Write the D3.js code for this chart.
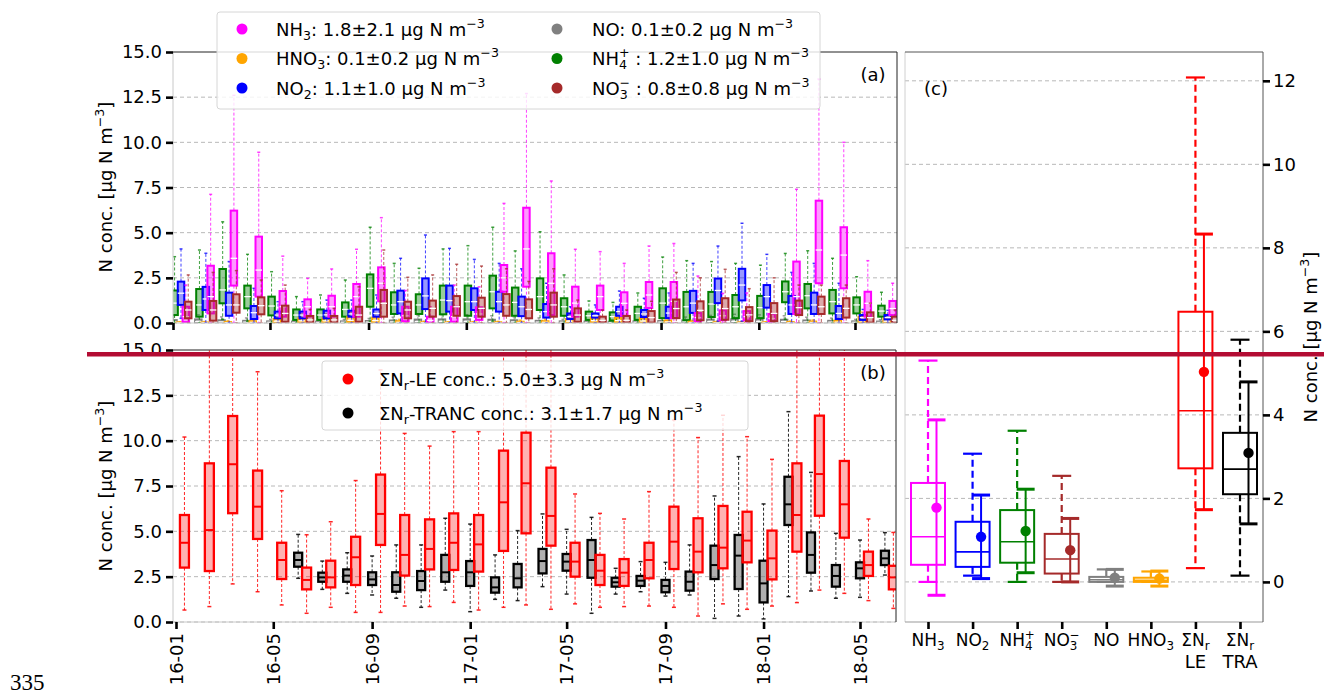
<!DOCTYPE html>
<html>
<head>
<meta charset="utf-8">
<script src="https://cdn.jsdelivr.net/npm/d3@7"></script>
<style>
body { margin: 0; background: #fff; }
text { font-family: "DejaVu Sans", sans-serif; }
</style>
</head>
<body>
<div id="chart"></div>
<script>
// ---- data ----------------------------------------------------------------
// monthly box statistics [whisker low, q1, median, q3, whisker high], Jan 2016 .. Jun 2018
const nh3Box = [
  [0,0.05,0.35,0.9,2.1],[0,0.53,1.46,3.17,7.12],[0,2.07,3.58,6.22,12.6],[0,1.46,2.93,4.78,9.45],
  [0,0.35,0.9,1.77,3.7],[0,0.35,0.9,1.31,2.47],[0,0.35,0.9,1.51,2.99],[0,0.35,1.46,2.16,4.08],
  [0,1.2,2.2,3.08,5.83],[0,0.1,0.4,0.9,1.8],[0,0.0,0.15,0.35,0.9],[0,0.07,0.35,0.9,2.1],
  [0,0.17,0.5,0.87,2.0],[0,1.73,2.5,3.21,6.62],[0,2.01,4.1,6.38,12.7],[0,0.44,2.2,3.86,7.86],
  [0,0.35,1.1,2.01,4.08],[0,0.72,1.46,2.07,3.95],[0,0.4,1.09,1.7,3.3],[0,0.83,1.55,2.27,4.26],
  [0,0.27,1.2,2.27,4.4],[0,0.1,0.3,0.55,2.6],[0,0.15,0.4,0.7,1.64],[0,0.15,0.35,0.66,1.66],
  [0,0.1,0.25,0.5,1.1],[0,0.5,1.46,3.4,7.4],[0,2.2,4.04,6.77,13.5],[0,1.92,3.76,5.3,10.0],
  [0,0.35,1.09,1.73,3.45],[0,0.44,0.8,1.22,2.2]
];
const hno3Box = [
  [0,0,0.01,0.03,0.07],[0,0,0.01,0.03,0.08],[0,0.01,0.02,0.05,0.12],[0,0.01,0.04,0.1,0.22],
  [0,0.03,0.1,0.22,0.45],[0,0.04,0.12,0.26,0.5],[0,0.04,0.12,0.26,0.52],[0,0.05,0.15,0.33,0.6],
  [0,0.04,0.13,0.3,0.55],[0,0.01,0.04,0.1,0.2],[0,0,0.02,0.04,0.1],[0,0,0.01,0.03,0.07],
  [0,0,0.01,0.03,0.07],[0,0,0.01,0.04,0.09],[0,0.01,0.03,0.07,0.16],[0,0.01,0.04,0.1,0.22],
  [0,0.03,0.1,0.22,0.46],[0,0.04,0.13,0.3,0.56],[0,0.04,0.13,0.3,0.58],[0,0.03,0.11,0.26,0.5],
  [0,0.02,0.06,0.14,0.3],[0,0.01,0.03,0.07,0.15],[0,0,0.01,0.04,0.09],[0,0,0.01,0.03,0.07],
  [0,0,0.01,0.03,0.07],[0,0,0.02,0.05,0.11],[0,0.01,0.03,0.08,0.17],[0,0.01,0.05,0.12,0.26],
  [0,0.04,0.12,0.35,0.6],[0,0.03,0.1,0.24,0.48]
];
const no2Box = [
  [0.26,1.0,1.65,2.29,4.1],[0,0.72,1.33,2.0,3.86],[0,0.4,1.0,1.68,3.4],[0,0.22,0.57,0.94,1.92],
  [0,0.26,0.44,0.63,1.18],[0,0.26,0.44,0.63,1.18],[0,0.26,0.45,0.68,1.27],[0,0.35,0.5,0.68,1.27],
  [0,0.35,0.53,0.75,1.55],[0,0.53,1.18,1.79,3.58],[0,0.77,1.5,2.47,4.87],[0,0.63,1.24,2.07,4.13],
  [0,0.72,1.18,1.92,3.52],[0,0.63,1.18,1.73,3.3],[0,0.38,0.9,1.46,3.0],[0,0.3,0.63,1.05,2.2],
  [0,0.22,0.35,0.53,0.9],[0,0.3,0.4,0.53,1.0],[0,0.4,0.63,0.9,1.77],[0,0.33,0.5,0.72,1.37],
  [0,0.27,0.55,0.9,1.66],[0,0.56,1.1,1.78,3.3],[0.1,1.1,1.8,2.46,4.26],[0.1,1.25,2.1,3.0,5.52],
  [0,0.85,1.46,2.1,3.8],[0,0.5,1.0,1.5,2.8],[0,0.5,1.0,1.68,3.3],[0,0.22,0.53,0.94,2.2],
  [0,0.17,0.3,0.44,0.75],[0,0.2,0.3,0.44,0.7]
];
const noBox = [
  [0,0.02,0.06,0.16,0.35],[0,0.03,0.08,0.2,0.45],[0,0.02,0.06,0.15,0.34],[0,0.02,0.05,0.12,0.28],
  [0,0.01,0.04,0.09,0.2],[0,0.01,0.03,0.08,0.17],[0,0.01,0.03,0.08,0.18],[0,0.01,0.04,0.09,0.2],
  [0,0.02,0.05,0.11,0.25],[0,0.02,0.06,0.14,0.32],[0,0.03,0.08,0.19,0.42],[0,0.03,0.09,0.2,0.45],
  [0,0.03,0.09,0.2,0.46],[0,0.03,0.08,0.18,0.4],[0,0.02,0.06,0.15,0.34],[0,0.02,0.05,0.12,0.28],
  [0,0.01,0.04,0.09,0.2],[0,0.01,0.03,0.08,0.17],[0,0.01,0.03,0.07,0.16],[0,0.01,0.04,0.09,0.19],
  [0,0.02,0.05,0.11,0.25],[0,0.02,0.07,0.15,0.33],[0,0.03,0.08,0.19,0.42],[0,0.03,0.09,0.21,0.48],
  [0,0.03,0.09,0.2,0.45],[0,0.03,0.08,0.18,0.4],[0,0.02,0.06,0.14,0.32],[0,0.02,0.05,0.12,0.27],
  [0,0.01,0.04,0.09,0.2],[0,0.01,0.03,0.08,0.18]
];
const nh4Box = [
  [0,0.44,1.1,1.8,3.67],[0,0.35,1.0,1.88,4.04],[0.2,1.09,1.83,2.99,5.6],[0.1,0.81,1.46,2.07,3.8],
  [0,0.42,0.94,1.46,2.84],[0,0.17,0.44,0.75,1.46],[0,0.17,0.44,0.75,1.55],[0,0.35,0.75,1.14,2.38],
  [0.1,0.9,1.92,2.69,5.3],[0,0.5,1.0,1.7,3.3],[0,0.5,1.0,1.59,3.03],[0,0.48,1.27,2.07,4.1],
  [0,0.4,1.18,2.07,4.28],[0.1,0.81,1.73,2.62,5.3],[0,0.4,1.14,1.96,3.99],[0,0.72,1.46,2.47,5.05],
  [0,0.4,0.9,1.37,2.66],[0,0.17,0.4,0.63,1.22],[0,0.13,0.35,0.59,1.14],[0,0.17,0.53,0.9,1.66],
  [0,0.27,1.1,1.92,3.65],[0,0.15,0.9,1.72,3.45],[0,0.33,1.05,1.72,3.4],[0,0.27,0.9,1.55,3.3],
  [0,0.27,0.85,1.5,3.2],[0.2,1.15,1.73,2.3,3.85],[0,0.81,1.51,2.16,4.0],[0,0.53,1.18,1.83,3.58],
  [0,0.53,1.0,1.42,2.56],[0,0.35,0.66,0.96,1.7]
];
const no3Box = [
  [0,0.26,0.72,1.18,2.66],[0,0.13,0.72,1.22,2.8],[0,0.57,1.0,1.59,2.9],[0,0.48,0.96,1.42,2.38],
  [0,0.07,0.53,0.96,2.1],[0,0.02,0.17,0.39,0.75],[0,0.02,0.17,0.39,0.81],[0,0.07,0.44,0.9,2.0],
  [0,0.35,1.09,1.83,4.04],[0,0.26,0.72,1.18,2.53],[0,0.35,0.81,1.24,2.66],[0,0.4,0.9,1.49,3.25],
  [0,0.35,0.81,1.4,3.15],[0,0.4,1.0,1.6,3.0],[0,0.26,0.75,1.31,2.3],[0,0.35,1.0,1.68,3.0],
  [0,0.07,0.44,0.81,1.27],[0,0.02,0.15,0.35,0.72],[0,0.02,0.15,0.39,0.72],[0,0.02,0.3,0.66,1.2],
  [0,0.27,0.8,1.3,2.8],[0,0.15,0.7,1.2,2.5],[0,0.18,0.8,1.37,2.97],[0,0.1,0.45,0.88,1.9],
  [0,0.1,0.53,1.1,2.5],[0,0.44,0.85,1.24,2.1],[0,0.5,0.9,1.46,2.1],[0,0.3,0.81,1.37,2.1],
  [0,0.02,0.3,0.59,1.1],[0,0.0,0.15,0.35,0.72]
];
const leBox = [
  [0.66,3.0,4.37,5.9,10.2],[0.85,2.81,5.07,8.75,16.4],[2.1,6.0,8.7,11.36,17.2],[1.67,4.58,6.36,8.35,13.8],
  [0.94,2.37,3.42,4.37,7.24],[0.48,1.8,2.32,3.0,4.81],[0.81,1.91,2.46,3.38,5.53],[0.53,2.04,3.57,4.7,7.8],
  [0.53,4.25,5.96,8.13,13.9],[0.88,2.56,3.7,5.9,10.4],[0.85,2.9,4.03,5.66,9.7],[1.08,2.87,4.37,5.99,10.5],
  [0.66,2.78,4.28,5.9,10.5],[0.81,3.92,6.6,9.45,16.1],[0.94,4.89,7.65,10.44,17.0],[0.7,4.21,5.85,8.51,15.6],
  [1.0,2.5,3.33,4.37,7.06],[0.81,2.04,2.83,3.7,5.99],[0.85,1.99,2.72,3.47,5.68],[0.88,2.41,3.42,4.37,7.19],
  [0.81,2.92,4.43,6.36,11.14],[0.33,2.74,3.88,5.72,10.17],[1.0,2.96,4.1,6.4,11.4],[0.7,3.29,4.49,6.08,10.22],
  [0.88,2.35,3.51,5.04,8.97],[1.07,3.88,5.9,8.75,15.8],[1.76,5.86,8.16,11.38,17.5],[1.58,4.65,6.49,8.88,16.3],
  [1.18,2.54,3.14,3.88,5.68],[0.75,1.8,2.46,3.1,4.94]
];
const trancBox = [
  null,null,null,null,null,
  [2.41,3.05,3.42,3.82,4.83],[1.8,2.22,2.46,2.72,3.36],[1.58,2.22,2.56,2.9,3.82],[1.49,2.04,2.35,2.74,3.64],
  [1.31,1.67,2.04,2.74,4.25],[0.81,1.76,2.26,2.81,4.25],[1.76,2.22,2.74,3.7,5.72],[0.57,1.99,2.74,3.36,5.4],
  [1.25,1.62,1.91,2.46,3.7],[1.18,1.91,2.41,3.2,5.04],[1.95,2.68,3.36,4.03,5.96],[1.54,2.83,3.33,3.75,5.11],
  [0.48,2.44,3.42,4.52,5.77],[1.54,1.95,2.19,2.44,2.96],[1.67,1.99,2.28,2.54,3.33],[1.43,1.64,1.99,2.32,3.29],
  [1.49,1.73,2.22,2.78,4.25],[0.2,2.37,3.14,4.21,6.95],[0.33,1.82,3.66,4.8,9.12],[0.17,1.08,2.13,3.38,6.51],
  [1.4,5.35,6.49,8.01,11.6],[1.71,2.72,3.7,4.94,8.25],[1.31,1.95,2.54,3.14,4.89],[1.36,2.41,2.96,3.29,4.52],
  [2.59,3.14,3.51,3.93,4.93]
];

// overall statistics, panel (c)
const cCats = ['NH3','NO2','NH4','NO3','NO','HNO3','LE','TRA'];
const cBox = [
  [0,0.41,1.08,2.37,5.3],[0.15,0.36,0.72,1.44,3.07],[0,0.46,0.96,1.72,3.62],[0,0.2,0.55,1.15,2.54],
  [0,0.0,0.05,0.12,0.3],[0,0.0,0.04,0.1,0.25],[0.33,2.72,4.1,6.47,12.08],[0.15,2.1,2.7,3.57,5.8]
];
const cMean = [1.78,1.08,1.22,0.76,0.1,0.08,5.03,3.09];
const cStd  = [2.1,1.0,1.0,0.76,0.2,0.18,3.3,1.7];

const yTicksAB = [0,2.5,5,7.5,10,12.5,15];
const yTicksC = [0,2,4,6,8,10,12];
const xTickLabels = ['16-01','16-05','16-09','17-01','17-05','17-09','18-01','18-05'];

// ---- helpers -------------------------------------------------------------
const W = 1324, H = 697, FS = 18;
const parseMonth = d3.timeParse('%y-%m');
const fmtMonth = d3.timeFormat('%y-%m');
const months = d3.range(30).map(i => new Date(2016, i, 1));
const addDays = (d, n) => new Date(+d + n * 864e5);

function rich(sel, parts, fs) {
  let shift = 0;
  parts.forEach(([s, k]) => {
    const t = sel.append('tspan').text(s);
    let target = 0, size = null, dx = 0;
    if (k === 'sub') { target = 0.24 * fs; size = 0.7 * fs; }
    else if (k === 'sup') { target = -0.42 * fs; size = 0.7 * fs; }
    else if (k === 'stack') { target = -0.42 * fs; size = 0.7 * fs; dx = -0.45 * fs; }
    if (target - shift !== 0) t.attr('dy', target - shift);
    if (dx) t.attr('dx', dx);
    if (size) t.attr('font-size', size);
    shift = target;
  });
  return sel;
}

const unit = [[' μg N m', ''], ['−3', 'sup']];
const names = {
  NH3: [['NH',''],['3','sub']],
  NO2: [['NO',''],['2','sub']],
  NH4: [['NH',''],['4','sub'],['+','stack']],
  NO3: [['NO',''],['3','sub'],['−','stack']],
  NO: [['NO','']],
  HNO3: [['HNO',''],['3','sub']],
  SN: [['ΣN',''],['r','sub']]
};

function drawBox(g, y, cx, w, s, color, o) {
  if (!s) return;
  const [lo, q1, med, q3, hi] = s;
  [[q1, lo], [q3, hi]].forEach(([a, b]) => {
    g.append('line')
      .attr('x1', cx).attr('x2', cx).attr('y1', y(a)).attr('y2', y(b))
      .attr('stroke', color).attr('stroke-width', o.ww)
      .attr('stroke-dasharray', o.dash).attr('stroke-opacity', o.wop);
  });
  [lo, hi].forEach(v => {
    g.append('line')
      .attr('x1', cx - o.cap / 2).attr('x2', cx + o.cap / 2).attr('y1', y(v)).attr('y2', y(v))
      .attr('stroke', color).attr('stroke-width', o.cw).attr('stroke-opacity', o.wop);
  });
  g.append('rect')
    .attr('x', cx - w / 2).attr('y', y(q3))
    .attr('width', w).attr('height', Math.max(0.5, y(q1) - y(q3)))
    .attr('fill', o.fill || color).attr('fill-opacity', o.fop)
    .attr('stroke', color).attr('stroke-width', o.sw);
  g.append('line')
    .attr('x1', cx - w / 2).attr('x2', cx + w / 2).attr('y1', y(med)).attr('y2', y(med))
    .attr('stroke', o.mc || color).attr('stroke-width', o.mw);
}

function grid(g, y, vals, x0, x1) {
  g.selectAll(null).data(vals).enter().append('line')
    .attr('x1', x0).attr('x2', x1).attr('y1', d => y(d)).attr('y2', d => y(d))
    .attr('stroke', '#b8b8b8').attr('stroke-width', 1).attr('stroke-dasharray', '4,3');
}

function styleAxis(a) {
  a.select('.domain').remove();
  a.selectAll('.tick line').attr('stroke', '#000').attr('stroke-width', 2.6);
  a.selectAll('.tick text').attr('font-size', FS).attr('fill', '#000')
    .attr('font-family', '"DejaVu Sans", sans-serif');
}

// ---- svg -----------------------------------------------------------------
const svg = d3.select('#chart').append('svg').attr('width', W).attr('height', H);

const t0 = new Date(2016, 0, 1), t1 = new Date(2018, 4, 1);
const xa = d3.scaleTime().domain([t0, t1]).range([173, 855]);
const xb = d3.scaleTime().domain([t0, t1]).range([176, 860]);
const ya = d3.scaleLinear().domain([0, 15]).range([323, 52]);
const yb = d3.scaleLinear().domain([0, 15]).range([622, 350]);
const yc = d3.scaleLinear().domain([-0.96, 12.69]).range([622, 52]);
const xc = d3.scalePoint().domain(cCats).range([928, 1240]);
const tickDates = xTickLabels.map(parseMonth);

const defs = svg.append('defs');
defs.append('clipPath').attr('id', 'clipA').append('rect').attr('x', 173).attr('y', 52).attr('width', 724).attr('height', 271);
defs.append('clipPath').attr('id', 'clipB').append('rect').attr('x', 173).attr('y', 350).attr('width', 723).attr('height', 272);

// ---------------- panel (a) ----------------
const pa = svg.append('g');
grid(pa, ya, yTicksAB.slice(0, -1), 173, 897);

const seriesA = [
  { data: noBox,   color: '#808080', off: 0.6 },
  { data: nh4Box,  color: '#008000', off: 2 },
  { data: hno3Box, color: '#ffa500', off: 8.5 },
  { data: no2Box,  color: '#0000ff', off: 10 },
  { data: nh3Box,  color: '#ff00ff', off: 16 },
  { data: no3Box,  color: '#a52a2a', off: 19 }
];
const boxesA = pa.append('g').attr('clip-path', 'url(#clipA)');
seriesA.forEach(sp => {
  sp.data.forEach((s, i) => {
    drawBox(boxesA, ya, xa(addDays(months[i], sp.off)), 6.5, s, sp.color,
      { ww: 1, dash: '3,2', wop: 0.75, cap: 3, cw: 1.5, fop: 0.4, sw: 2, mw: 1.3, mc: '#fff' });
  });
});

// spines (a)
pa.append('line').attr('x1', 173).attr('x2', 173).attr('y1', 52).attr('y2', 323).attr('stroke', '#c8c8c8');
pa.append('line').attr('x1', 173).attr('x2', 897).attr('y1', 323).attr('y2', 323).attr('stroke', '#c8c8c8');
pa.append('line').attr('x1', 897).attr('x2', 897).attr('y1', 52).attr('y2', 323).attr('stroke', '#222');
pa.append('line').attr('x1', 173).attr('x2', 897).attr('y1', 52).attr('y2', 52).attr('stroke', '#222');

styleAxis(pa.append('g').attr('transform', 'translate(173,0)')
  .call(d3.axisLeft(ya).tickValues(yTicksAB).tickFormat(d3.format('.1f')).tickSize(7).tickPadding(4)));
styleAxis(pa.append('g').attr('transform', 'translate(0,323)')
  .call(d3.axisBottom(xa).tickValues(tickDates).tickFormat('').tickSize(7)));

rich(pa.append('text').attr('transform', 'translate(112,187) rotate(-90)').attr('text-anchor', 'middle')
  .attr('font-size', FS), [['N conc. [μg N m', ''], ['−3', 'sup'], [']', '']], FS);
pa.append('text').attr('x', 873).attr('y', 81).attr('text-anchor', 'middle').attr('font-size', FS).text('(a)');

// legend (a)
const legA = svg.append('g');
legA.append('rect').attr('x', 217).attr('y', 12).attr('width', 603).attr('height', 97).attr('rx', 3)
  .attr('fill', '#fff').attr('fill-opacity', 0.82).attr('stroke', '#d6d6d6');
const legItemsA = [
  { key: 'NH3',  color: '#ff00ff', col: 0, row: 0, m: 1.8, s: 2.1 },
  { key: 'HNO3', color: '#ffa500', col: 0, row: 1, m: 0.1, s: 0.2 },
  { key: 'NO2',  color: '#0000ff', col: 0, row: 2, m: 1.1, s: 1.0 },
  { key: 'NO',   color: '#808080', col: 1, row: 0, m: 0.1, s: 0.2 },
  { key: 'NH4',  color: '#008000', col: 1, row: 1, m: 1.2, s: 1.0 },
  { key: 'NO3',  color: '#a52a2a', col: 1, row: 2, m: 0.8, s: 0.8 }
];
legItemsA.forEach(it => {
  const mx = it.col ? 557 : 242, tx = it.col ? 592 : 276, cy = 29 + it.row * 29.5;
  legA.append('circle').attr('cx', mx).attr('cy', cy).attr('r', 5.5).attr('fill', it.color);
  const sep = (it.key === 'NH4' || it.key === 'NO3') ? ' : ' : ': ';
  rich(legA.append('text').attr('x', tx).attr('y', cy + 6.5).attr('font-size', FS),
    names[it.key].concat([[sep + it.m.toFixed(1) + '±' + it.s.toFixed(1), '']], unit), FS);
});

// ---------------- panel (b) ----------------
const pb = svg.append('g');
grid(pb, yb, yTicksAB.slice(0, -1), 173, 896);
const boxesB = pb.append('g').attr('clip-path', 'url(#clipB)');
trancBox.forEach((s, i) => drawBox(boxesB, yb, xb(months[i]), 8, s, '#000',
  { ww: 1, dash: '3,2', wop: 0.85, cap: 4, cw: 1.5, fill: '#7a7a7a', fop: 0.6, sw: 2.3, mw: 2 }));
leBox.forEach((s, i) => drawBox(boxesB, yb, xb(addDays(months[i], 10.5)), 9, s, '#ff0000',
  { ww: 1, dash: '3,2', wop: 0.85, cap: 4, cw: 1.5, fop: 0.3, sw: 2.3, mw: 2 }));

pb.append('line').attr('x1', 173).attr('x2', 173).attr('y1', 350).attr('y2', 622).attr('stroke', '#c8c8c8');
pb.append('line').attr('x1', 173).attr('x2', 896).attr('y1', 622).attr('y2', 622).attr('stroke', '#c8c8c8');
pb.append('line').attr('x1', 896).attr('x2', 896).attr('y1', 350).attr('y2', 622).attr('stroke', '#222');
pb.append('line').attr('x1', 173).attr('x2', 896).attr('y1', 350).attr('y2', 350).attr('stroke', '#222');

styleAxis(pb.append('g').attr('transform', 'translate(173,0)')
  .call(d3.axisLeft(yb).tickValues(yTicksAB).tickFormat(d3.format('.1f')).tickSize(7).tickPadding(4)));
const axB = pb.append('g').attr('transform', 'translate(0,622)')
  .call(d3.axisBottom(xb).tickValues(tickDates).tickFormat(fmtMonth).tickSize(7));
styleAxis(axB);
axB.selectAll('.tick text').attr('transform', 'rotate(-90)').attr('x', -11).attr('y', 0)
  .attr('dy', '0.35em').attr('text-anchor', 'end');

rich(pb.append('text').attr('transform', 'translate(112,486) rotate(-90)').attr('text-anchor', 'middle')
  .attr('font-size', FS), [['N conc. [μg N m', ''], ['−3', 'sup'], [']', '']], FS);
pb.append('text').attr('x', 873).attr('y', 379).attr('text-anchor', 'middle').attr('font-size', FS).text('(b)');

// legend (b)
const legB = svg.append('g');
legB.append('rect').attr('x', 322).attr('y', 361).attr('width', 426).attr('height', 69).attr('rx', 3)
  .attr('fill', '#fff').attr('fill-opacity', 0.82).attr('stroke', '#d6d6d6');
const legItemsB = [
  { label: '-LE conc.: ', color: '#ff0000', m: 5.0, s: 3.3 },
  { label: '-TRANC conc.: ', color: '#000', m: 3.1, s: 1.7 }
];
legItemsB.forEach((it, i) => {
  const cy = 379 + i * 34;
  legB.append('circle').attr('cx', 348).attr('cy', cy).attr('r', 5.5).attr('fill', it.color);
  rich(legB.append('text').attr('x', 379).attr('y', cy + 6.5).attr('font-size', FS),
    names.SN.concat([[it.label + it.m.toFixed(1) + '±' + it.s.toFixed(1), '']], unit), FS);
});

// ---------------- panel (c) ----------------
const pc = svg.append('g');
grid(pc, yc, yTicksC, 905, 1263);
const cColors = ['#ff00ff', '#0000ff', '#008000', '#a52a2a', '#808080', '#ffa500', '#ff0000', '#000000'];
cCats.forEach((c, i) => {
  const cx = xc(c);
  drawBox(pc, yc, cx, 34, cBox[i], cColors[i],
    { ww: 2.2, dash: '7,4', wop: 1, cap: 19, cw: 2.2, fill: 'none', fop: 0, sw: 2, mw: 1.6 });
  const mx = cx + 8.5, lo = cMean[i] - cStd[i], hi = cMean[i] + cStd[i];
  pc.append('line').attr('x1', mx).attr('x2', mx).attr('y1', yc(lo)).attr('y2', yc(hi))
    .attr('stroke', cColors[i]).attr('stroke-width', 2);
  [lo, hi].forEach(v => pc.append('line').attr('x1', mx - 9).attr('x2', mx + 9)
    .attr('y1', yc(v)).attr('y2', yc(v)).attr('stroke', cColors[i]).attr('stroke-width', 3));
  pc.append('circle').attr('cx', mx).attr('cy', yc(cMean[i])).attr('r', 5.2).attr('fill', cColors[i]);
});

pc.append('line').attr('x1', 905).attr('x2', 905).attr('y1', 52).attr('y2', 622).attr('stroke', '#d0d0d0');
pc.append('line').attr('x1', 905).attr('x2', 1263).attr('y1', 622).attr('y2', 622).attr('stroke', '#999');
pc.append('line').attr('x1', 1263).attr('x2', 1263).attr('y1', 52).attr('y2', 622).attr('stroke', '#555');
pc.append('line').attr('x1', 905).attr('x2', 1263).attr('y1', 52).attr('y2', 52).attr('stroke', '#555');

styleAxis(pc.append('g').attr('transform', 'translate(1263,0)')
  .call(d3.axisRight(yc).tickValues(yTicksC).tickFormat(d3.format('d')).tickSize(7).tickPadding(3)));
const axC = pc.append('g').attr('transform', 'translate(0,622)')
  .call(d3.axisBottom(xc).tickFormat('').tickSize(7));
styleAxis(axC);
const FSC = 17;
const cLabels = [names.NH3, names.NO2, names.NH4, names.NO3, names.NO, names.HNO3, names.SN, names.SN];
const cLabels2 = ['', '', '', '', '', '', 'LE', 'TRA'];
cCats.forEach((c, i) => {
  rich(pc.append('text').attr('x', xc(c)).attr('y', 646).attr('text-anchor', 'middle').attr('font-size', FSC),
    cLabels[i], FSC);
  if (cLabels2[i]) pc.append('text').attr('x', xc(c)).attr('y', 668).attr('text-anchor', 'middle')
    .attr('font-size', FS).text(cLabels2[i]);
});
rich(pc.append('text').attr('transform', 'translate(1317,337) rotate(-90)').attr('text-anchor', 'middle')
  .attr('font-size', FS), [['N conc. [μg N m', ''], ['−3', 'sup'], [']', '']], FS);
pc.append('text').attr('x', 936).attr('y', 95).attr('text-anchor', 'middle').attr('font-size', FS).text('(c)');

// page marks
svg.append('rect').attr('x', 87).attr('y', 352).attr('width', W - 87).attr('height', 4.5).attr('fill', '#b30c33');
svg.append('text').attr('x', 10).attr('y', 690).attr('font-size', 23)
  .style('font-family', '"Liberation Serif", serif').text('335');
</script>
</body>
</html>
